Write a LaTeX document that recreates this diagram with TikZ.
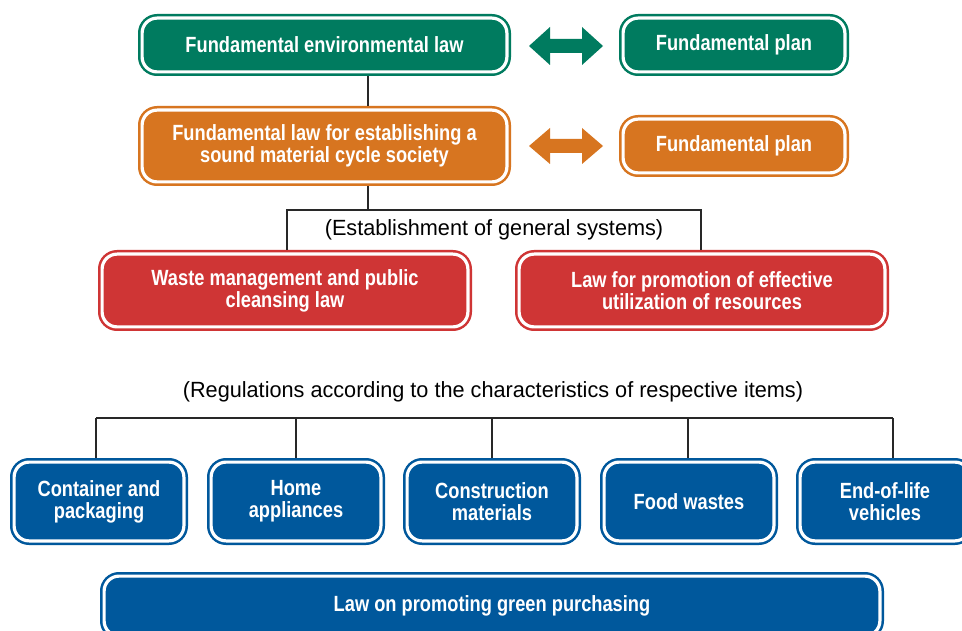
\documentclass[tikz,border=0pt]{standalone}
\usepackage{fontspec}
\usetikzlibrary{calc}
\newfontfamily\boxfont{Liberation Sans}[FakeStretch=0.83]
\newfontfamily\labfont{Liberation Sans}[FakeStretch=0.985]
\definecolor{cgreen}{RGB}{0,123,95}
\definecolor{corange}{RGB}{215,117,32}
\definecolor{cred}{RGB}{207,53,53}
\definecolor{cblue}{RGB}{0,88,156}
\definecolor{cline}{RGB}{40,40,40}
\tikzset{
  box/.style={rounded corners=15pt, draw=#1, fill=#1, double=white,
    double distance=3.2pt, line width=2.5pt, text=white, align=center,
    inner sep=0pt, outer sep=4pt,
    font=\boxfont\bfseries\fontsize{22}{22}\selectfont},
  conn/.style={draw=cline, line width=1.1pt},
  lab/.style={font=\labfont\fontsize{22}{24}\selectfont, inner sep=0pt},
  fatarrow/.style={fill=#1, draw=none}
}
\begin{document}
\begin{tikzpicture}[x=1pt,y=-1pt]
\useasboundingbox (0,0) rectangle (962,631);
\clip (0,0) rectangle (962,631);
\fill[white] (0,0) rectangle (962,631);

% top rows
\node[box=cgreen, minimum width=364.8pt, minimum height=53.8pt] (g1) at (324.5,45) {Fundamental environmental law};
\node[box=cgreen, minimum width=221.8pt, minimum height=53.8pt] (g2) at (734,45) {Fundamental plan};
\node[box=corange, minimum width=364.8pt, minimum height=71.8pt] (o1) at (324.5,146) {Fundamental law for establishing a\\sound material cycle society};
\node[box=corange, minimum width=221.8pt, minimum height=53.8pt] (o2) at (734,146) {Fundamental plan};

% fat double arrows
\coordinate (ga) at (566,46);
\fill[fatarrow=cgreen] ($(ga)+(-37,0)$) -- ($(ga)+(-16,-19)$) -- ($(ga)+(-16,-7)$) -- ($(ga)+(16,-7)$) -- ($(ga)+(16,-19)$) -- ($(ga)+(37,0)$) -- ($(ga)+(16,19)$) -- ($(ga)+(16,7)$) -- ($(ga)+(-16,7)$) -- ($(ga)+(-16,19)$) -- cycle;
\coordinate (oa) at (566,146);
\fill[fatarrow=corange] ($(oa)+(-37,0)$) -- ($(oa)+(-16,-18)$) -- ($(oa)+(-16,-7)$) -- ($(oa)+(16,-7)$) -- ($(oa)+(16,-18)$) -- ($(oa)+(37,0)$) -- ($(oa)+(16,18)$) -- ($(oa)+(16,7)$) -- ($(oa)+(-16,7)$) -- ($(oa)+(-16,18)$) -- cycle;

% red row
\node[box=cred, minimum width=365.8pt, minimum height=72.8pt] (r1) at (285,290.5) {Waste management and public\\cleansing law};
\node[box=cred, minimum width=365.8pt, minimum height=72.8pt] (r2) at (702,290.5) {Law for promotion of effective\\utilization of resources};

\node[lab] (estab) at (494,230) {(Establishment of general systems)};
\node[lab] (regs) at (493,392) {(Regulations according to the characteristics of respective items)};

% blue row
\node[box=cblue, minimum width=169.8pt, minimum height=78.8pt] (b1) at (99,501.5) {Container and\\packaging};
\node[box=cblue, minimum width=169.8pt, minimum height=78.8pt] (b2) at (296,501.5) {Home\\appliances};
\node[box=cblue, minimum width=169.8pt, minimum height=78.8pt] (b3) at (492,501.5) {Construction\\materials};
\node[box=cblue, minimum width=169.8pt, minimum height=78.8pt] (b4) at (689,501.5) {Food wastes};
\node[box=cblue, minimum width=169.8pt, minimum height=78.8pt] (b5) at (885,501.5) {End-of-life\\vehicles};
\node[box=cblue, minimum width=775.8pt, minimum height=59.8pt] (gp) at (492,606) {Law on promoting green purchasing};

% connectors
\coordinate (x1) at (368,0);
\draw[conn] (g1.south -| x1) -- (o1.north -| x1);
\coordinate (j1) at (368,210);
\coordinate (jl) at (287,210);
\coordinate (jr) at (701,210);
\draw[conn] (o1.south -| x1) -- (j1);
\draw[conn] (r1.north -| jl) -- (jl) -- (jr) -- (r2.north -| jr);

\coordinate (h1) at (96,418);
\coordinate (h2) at (296,418);
\coordinate (h3) at (492,418);
\coordinate (h4) at (688,418);
\coordinate (h5) at (893,418);
\draw[conn] (h1) -- (h5);
\draw[conn] (h1) -- (h1 |- b1.north);
\draw[conn] (h2) -- (h2 |- b2.north);
\draw[conn] (h3) -- (h3 |- b3.north);
\draw[conn] (h4) -- (h4 |- b4.north);
\draw[conn] (h5) -- (h5 |- b5.north);
\end{tikzpicture}
\end{document}
